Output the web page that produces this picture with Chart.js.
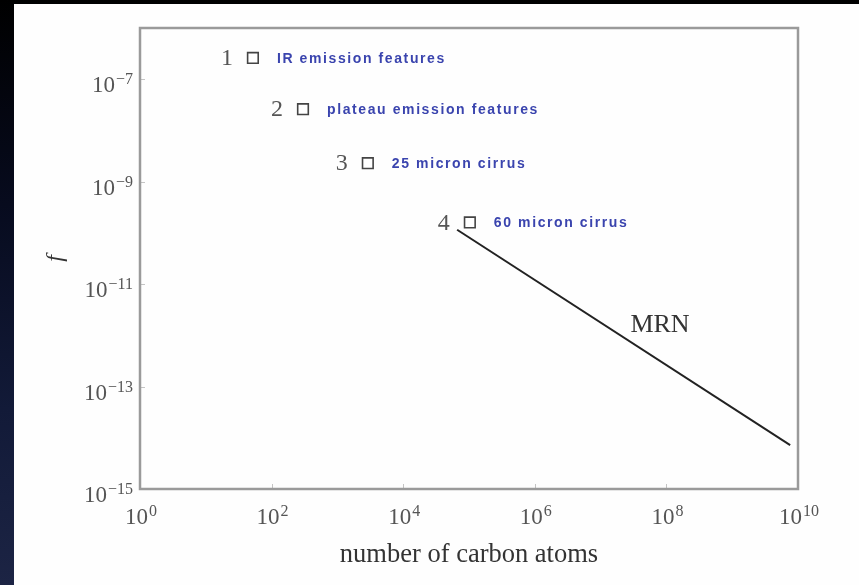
<!DOCTYPE html>
<html>
<head>
<meta charset="utf-8">
<script src="https://cdn.jsdelivr.net/npm/chart.js@4"></script>
<style>
  html, body { margin: 0; padding: 0; width: 859px; height: 585px; overflow: hidden; }
  body { background: linear-gradient(to bottom, #000000 0%, #070b1e 35%, #121a38 70%, #1c2444 100%); position: relative; }
  #panel { position: absolute; left: 14px; top: 4px; width: 845px; height: 581px; background: #fefefe; }
  #wrap { position: absolute; left: 0; top: 0; width: 859px; height: 585px; }
</style>
</head>
<body>
<div id="panel"></div>
<div id="wrap"><canvas id="c" width="859" height="585"></canvas></div>
<script>
// ---- data ----
const markerNums   = ['1', '2', '3', '4'];
const markerLabels = ['IR emission features', 'plateau emission features', '25 micron cirrus', '60 micron cirrus'];
const markerX      = [52, 300, 2900, 1.03e5];
const markerY      = [2.6e-7, 2.6e-8, 2.3e-9, 1.6e-10];
const mrnX         = [6.6e4, 7.6e9];
const mrnY         = [1.15e-10, 7.2e-15];
const mrnLabel     = 'MRN';
const xTickExps    = [0, 2, 4, 6, 8, 10];
const yTickExps    = [-15, -13, -11, -9, -7];
const xTitle       = 'number of carbon atoms';
const yTitle       = 'f';

const SERIF = '"Liberation Serif", "DejaVu Serif", serif';
const SANS  = '"Liberation Sans", Arial, sans-serif';
const mrnLabelAt = { x: 8e7, y: 1.6e-12 };

function drawPow(ctx, exp, x, yBase, ySup, align) {
  const base = '10';
  const sup = String(exp).replace('-', '\u2212');
  ctx.font = '23px ' + SERIF;
  const wb = ctx.measureText(base).width;
  ctx.font = '16px ' + SERIF;
  const ws = ctx.measureText(sup).width;
  const gap = 1;
  let left;
  if (align === 'center') left = x - (wb + gap + ws) / 2 + 1;
  else left = x - (wb + gap + ws);
  ctx.textAlign = 'left';
  ctx.textBaseline = 'middle';
  ctx.fillStyle = '#555';
  ctx.font = '23px ' + SERIF;
  ctx.fillText(base, left, yBase);
  ctx.font = '16px ' + SERIF;
  ctx.fillText(sup, left + wb + gap, ySup);
}

const decor = {
  id: 'decor',
  afterDraw(chart) {
    const { ctx, chartArea: a, scales: { x, y } } = chart;
    ctx.save();
    // inward ticks
    ctx.strokeStyle = '#c4c4c4';
    ctx.lineWidth = 1;
    xTickExps.forEach(e => {
      const px = Math.round(x.getPixelForValue(Math.pow(10, e))) + 0.5;
      ctx.beginPath(); ctx.moveTo(px, a.bottom); ctx.lineTo(px, a.bottom - 5); ctx.stroke();
    });
    yTickExps.forEach(e => {
      const py = Math.round(y.getPixelForValue(Math.pow(10, e))) + 0.5;
      ctx.beginPath(); ctx.moveTo(a.left, py); ctx.lineTo(a.left + 5, py); ctx.stroke();
    });
    // frame
    ctx.strokeStyle = '#9a9a9a';
    ctx.lineWidth = 2.5;
    ctx.strokeRect(a.left, a.top, a.right - a.left, a.bottom - a.top);
    // tick labels
    xTickExps.forEach(e => {
      const px = x.getPixelForValue(Math.pow(10, e));
      drawPow(ctx, e, px, a.bottom + 29, a.bottom + 23, 'center');
    });
    yTickExps.forEach(e => {
      const py = y.getPixelForValue(Math.pow(10, e));
      drawPow(ctx, e, a.left - 7, py + 7, py + 1, 'right');
    });
    // marker annotations
    markerX.forEach((vx, i) => {
      const px = x.getPixelForValue(vx);
      const py = y.getPixelForValue(markerY[i]);
      ctx.textBaseline = 'middle';
      ctx.textAlign = 'center';
      ctx.fillStyle = '#555';
      ctx.font = '24px ' + SERIF;
      ctx.fillText(markerNums[i], px - 26, py + 1);
      ctx.textAlign = 'left';
      ctx.fillStyle = '#3a44ae';
      ctx.font = 'bold 14px ' + SANS;
      ctx.letterSpacing = '1.6px';
      ctx.fillText(markerLabels[i], px + 24, py + 1);
      ctx.letterSpacing = '0px';
    });
    // MRN label
    ctx.textAlign = 'center';
    ctx.textBaseline = 'middle';
    ctx.fillStyle = '#333';
    ctx.font = '26px ' + SERIF;
    ctx.fillText(mrnLabel, x.getPixelForValue(mrnLabelAt.x), y.getPixelForValue(mrnLabelAt.y));
    ctx.restore();
  }
};

new Chart(document.getElementById('c'), {
  data: {
    datasets: [
      {
        type: 'line',
        label: 'MRN',
        data: mrnX.map((v, i) => ({ x: v, y: mrnY[i] })),
        borderColor: '#222',
        borderWidth: 2,
        pointRadius: 0,
        fill: false,
        order: 2
      },
      {
        type: 'scatter',
        label: 'features',
        data: markerX.map((v, i) => ({ x: v, y: markerY[i] })),
        pointStyle: 'rect',
        pointRadius: 7.5,
        borderColor: '#444',
        borderWidth: 1.6,
        backgroundColor: '#ffffff',
        order: 1
      }
    ]
  },
  options: {
    responsive: false,
    animation: false,
    events: [],
    layout: { padding: { left: 0, top: 28, right: 61, bottom: 0 } },
    plugins: { legend: { display: false }, tooltip: { enabled: false } },
    scales: {
      x: {
        type: 'logarithmic',
        min: 1, max: 1e10,
        grid: { display: false },
        border: { display: false },
        ticks: { display: false },
        afterBuildTicks: s => { s.ticks = xTickExps.map(e => ({ value: Math.pow(10, e) })); },
        afterFit: s => { s.height = 96; },
        title: { display: true, text: xTitle, color: '#333', font: { family: SERIF, size: 26.5 }, padding: { top: 0, bottom: 14 } }
      },
      y: {
        type: 'logarithmic',
        min: 1e-15, max: 1e-6,
        grid: { display: false },
        border: { display: false },
        ticks: { display: false },
        afterBuildTicks: s => { s.ticks = yTickExps.map(e => ({ value: Math.pow(10, e) })); },
        afterFit: s => { s.width = 140; },
        title: { display: true, text: yTitle, color: '#333', font: { family: SERIF, size: 24, style: 'italic' }, padding: { top: 41, bottom: 0 } }
      }
    }
  },
  plugins: [decor]
});
</script>
</body>
</html>
